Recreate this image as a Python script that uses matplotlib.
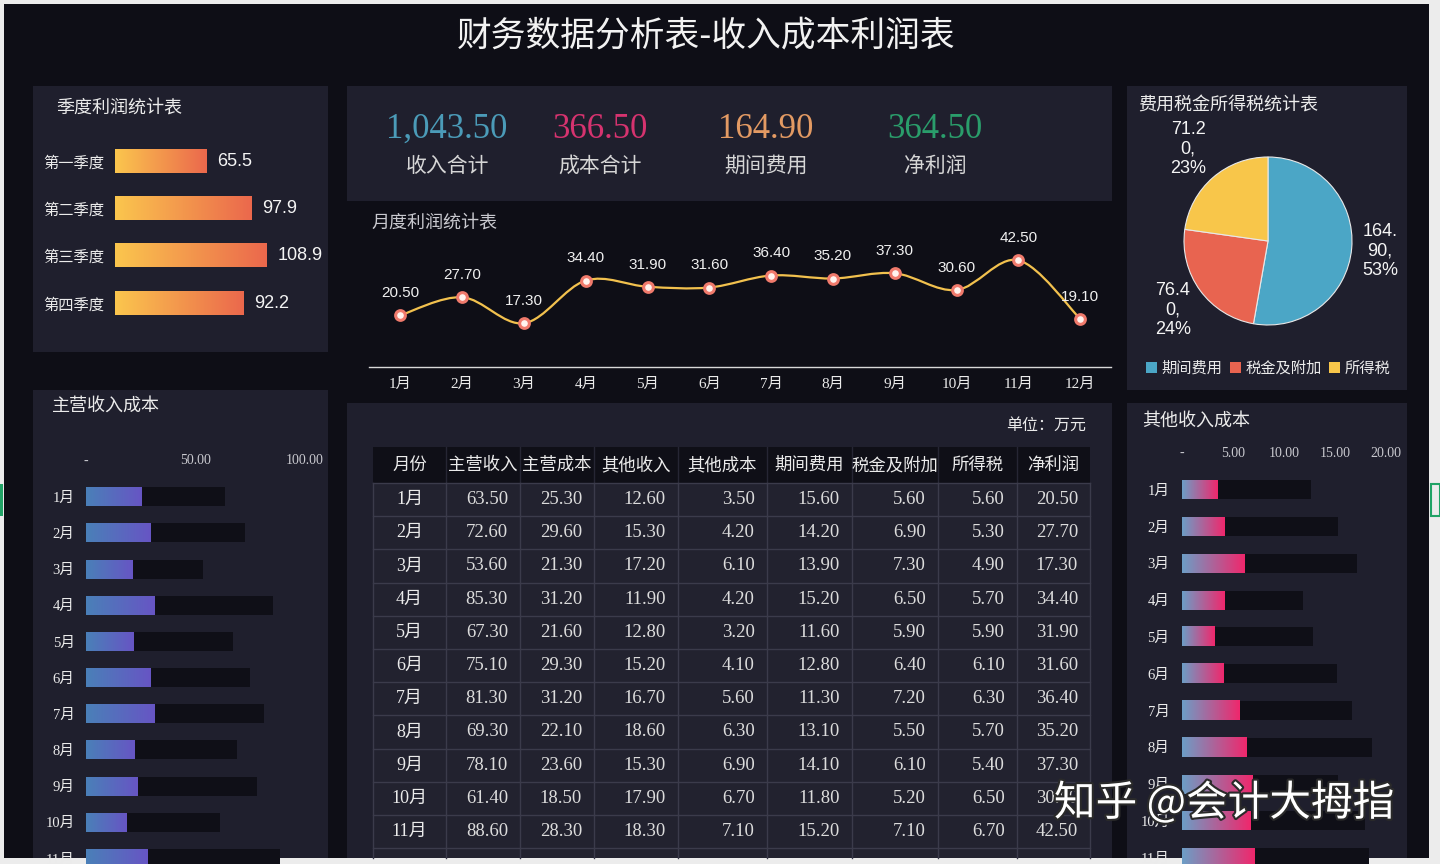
import numpy as np
import matplotlib
matplotlib.use('Agg')
import matplotlib.pyplot as plt
from matplotlib.patches import Rectangle, PathPatch
from matplotlib.path import Path
import matplotlib.patheffects as pe
from matplotlib.colors import LinearSegmentedColormap

# ---------------- data ----------------
title = '财务数据分析表-收入成本利润表'
quarters = ['第一季度', '第二季度', '第三季度', '第四季度']
quarter_profit = [65.5, 97.9, 108.9, 92.2]

kpi_values = [1043.50, 366.50, 164.90, 364.50]
kpi_labels = ['收入合计', '成本合计', '期间费用', '净利润']

months12 = ['1月', '2月', '3月', '4月', '5月', '6月', '7月', '8月', '9月', '10月', '11月', '12月']
net_profit_monthly = [20.5, 27.7, 17.3, 34.4, 31.9, 31.6, 36.4, 35.2, 37.3, 30.6, 42.5, 19.1]

table_months = ['1月', '2月', '3月', '4月', '5月', '6月', '7月', '8月', '9月', '10月', '11月']
main_rev = [63.5, 72.6, 53.6, 85.3, 67.3, 75.1, 81.3, 69.3, 78.1, 61.4, 88.6]
main_cost = [25.3, 29.6, 21.3, 31.2, 21.6, 29.3, 31.2, 22.1, 23.6, 18.5, 28.3]
other_rev = [12.6, 15.3, 17.2, 11.9, 12.8, 15.2, 16.7, 18.6, 15.3, 17.9, 18.3]
other_cost = [3.5, 4.2, 6.1, 4.2, 3.2, 4.1, 5.6, 6.3, 6.9, 6.7, 7.1]
period_exp = [15.6, 14.2, 13.9, 15.2, 11.6, 12.8, 11.3, 13.1, 14.1, 11.8, 15.2]
tax_surcharge = [5.6, 6.9, 7.3, 6.5, 5.9, 6.4, 7.2, 5.5, 6.1, 5.2, 7.1]
income_tax = [5.6, 5.3, 4.9, 5.7, 5.9, 6.1, 6.3, 5.7, 5.4, 6.5, 6.7]
net_profit = [20.5, 27.7, 17.3, 34.4, 31.9, 31.6, 36.4, 35.2, 37.3, 30.6, 42.5]

table_headers = ['月份', '主营收入', '主营成本', '其他收入', '其他成本', '期间费用', '税金及附加', '所得税', '净利润']

pie_labels = ['期间费用', '税金及附加', '所得税']
pie_values = [164.9, 76.4, 71.2]

main_ticks = [0, 50, 100]
main_tick_labels = ['-', '50.00', '100.00']
other_ticks = [0, 5, 10, 15, 20]
other_tick_labels = ['-', '5.00', '10.00', '15.00', '20.00']

# ---------------- style ----------------
W, H = 1440, 864
CJK = ['Noto Sans CJK SC', 'DejaVu Sans']
SERIF = ['Liberation Serif', 'Noto Sans CJK SC']
SANS = ['Liberation Sans', 'Noto Sans CJK SC']
OUTER = '#0e0e16'
PANEL = '#1f1f2d'
TXT = '#ebebeb'
GREY = '#c9c9cf'

plt.rcParams['font.family'] = CJK

fig = plt.figure(figsize=(W / 100, H / 100), dpi=100, facecolor='#ececec')
bg = fig.add_axes([0, 0, 1, 1])
bg.set_xlim(0, W)
bg.set_ylim(H, 0)
bg.axis('off')


def px_axes(x0, y0, x1, y1):
    a = fig.add_axes([x0 / W, 1 - y1 / H, (x1 - x0) / W, (y1 - y0) / H])
    a.patch.set_alpha(0)
    for s in a.spines.values():
        s.set_visible(False)
    return a


def rect(x0, y0, x1, y1, color, **kw):
    bg.add_patch(Rectangle((x0, y0), x1 - x0, y1 - y0, facecolor=color, edgecolor='none', **kw))


# screen frame / background
rect(4, 4, 1429, 858, OUTER)
bg.add_patch(Rectangle((1431, 484), 9, 32, facecolor='none', edgecolor='#21a366', lw=1.5))
bg.add_patch(Rectangle((0, 484), 3, 32, facecolor='#21a366', edgecolor='none'))

# panels
rect(33, 86, 328, 352, PANEL)
rect(347, 86, 1112, 201, PANEL)
rect(1127, 86, 1407, 390, PANEL)
rect(33, 390, 328, 858, PANEL)
rect(347, 403, 1112, 858, PANEL)
rect(1127, 403, 1407, 858, PANEL)

# title and panel titles
bg.text(706, 36, title, ha='center', va='center', fontsize=25, color='#f2f2f2')
bg.text(56, 108, '季度利润统计表', ha='left', va='center', fontsize=13, color=TXT)
bg.text(371, 223, '月度利润统计表', ha='left', va='center', fontsize=13, color=GREY)
bg.text(1138, 106, '费用税金所得税统计表', ha='left', va='center', fontsize=13, color=TXT)
bg.text(52, 406, '主营收入成本', ha='left', va='center', fontsize=13, color=TXT)
bg.text(1142, 421, '其他收入成本', ha='left', va='center', fontsize=13, color=TXT)
bg.text(1086, 425, '单位：万元', ha='right', va='center', fontsize=11.5, color=TXT)

# ---------------- KPI ----------------
kpi_colors = ['#4b9bb8', '#d6336f', '#e39a63', '#2a9d6b']
kpi_x = [447, 600, 766, 935]
for v, lab, c, x in zip(kpi_values, kpi_labels, kpi_colors, kpi_x):
    bg.text(x, 129, f'{v:,.2f}', ha='center', va='center', fontsize=25, color=c, family=SERIF)
    bg.text(x, 166, lab, ha='center', va='center', fontsize=15, color='#d6d6d6')

# ---------------- quarterly bars ----------------
grad = np.linspace(0, 1, 256).reshape(1, -1)
cmap_q = LinearSegmentedColormap.from_list('q', ['#fbc64e', '#eb684c'])
axq = px_axes(115, 137.4, 328, 326.7)
for i, v in enumerate(quarter_profit):
    axq.imshow(grad, extent=[0, v, i + 0.245, i - 0.245], cmap=cmap_q, aspect='auto', interpolation='bicubic')
    axq.annotate(f'{v:.1f}', (v, i), xytext=(8, 0), textcoords='offset points',
                 ha='left', va='center', fontsize=13, color='#f5f5f5', family=SANS)
axq.set_xlim(0, (328 - 115) / 1.39)
axq.set_ylim(3.5, -0.5)
axq.set_xticks([])
axq.set_yticks(range(len(quarters)), quarters, fontsize=11, color=TXT)
axq.tick_params(axis='y', length=0, pad=8)

# ---------------- monthly profit line ----------------
axl = px_axes(369.5, 240, 1111, 366.5)
xs = np.arange(1, len(net_profit_monthly) + 1, dtype=float)
ys = np.array(net_profit_monthly, dtype=float)
verts = [(xs[0], ys[0])]
codes = [Path.MOVETO]
n = len(xs)
P = np.column_stack([xs, ys])
for i in range(n - 1):
    p0 = P[i - 1] if i > 0 else P[i]
    p1 = P[i]
    p2 = P[i + 1]
    p3 = P[i + 2] if i + 2 < n else P[i + 1]
    c1 = p1 + (p2 - p0) / 6.0
    c2 = p2 - (p3 - p1) / 6.0
    verts += [tuple(c1), tuple(c2), tuple(p2)]
    codes += [Path.CURVE4] * 3
axl.add_patch(PathPatch(Path(verts, codes), facecolor='none', edgecolor='#f2c14e', lw=1.6))
axl.plot(xs, ys, 'o', ms=7, mfc='#fff3ee', mec='#f07a6c', mew=2.2, zorder=3)
for x, y in zip(xs, ys):
    axl.annotate(f'{y:.2f}', (x, y), xytext=(0, 16), textcoords='offset points',
                 ha='center', va='center', fontsize=11, color='#f0f0f0', family=SANS)
axl.set_xlim(0.5, 12.5)
axl.set_ylim(0, (366.5 - 240) / 2.5)
axl.spines['bottom'].set_visible(True)
axl.spines['bottom'].set_color('#d8d8d8')
axl.spines['bottom'].set_linewidth(1)
axl.set_yticks([])
axl.set_xticks(xs, months12, fontsize=11, color=TXT, family=SERIF)
axl.tick_params(axis='x', length=0, pad=8)

# ---------------- pie ----------------
pie_colors = ['#4ba6c6', '#e86450', '#f8c64a']
axp = px_axes(1268 - 84, 241 - 84, 1268 + 84, 241 + 84)
wedges, _ = axp.pie(pie_values, startangle=90, counterclock=False, colors=pie_colors,
                    radius=1, wedgeprops=dict(edgecolor='#e8e8e8', linewidth=0.8))
axp.set_xlim(-1, 1)
axp.set_ylim(-1, 1)
total = sum(pie_values)
dists = [1.34, 1.40, 1.45]
ang = 90.0
for v, d in zip(pie_values, dists):
    span = v / total * 360
    mid = np.deg2rad(ang - span / 2)
    ang -= span
    s = f'{v:.2f}'
    lab = f'{s[:4]}\n{s[4:]},\n{v / total * 100:.0f}%'
    axp.text(d * np.cos(mid), d * np.sin(mid), lab, ha='center', va='center', fontsize=13,
             color='#f5f5f5', family=SANS, linespacing=1.2, clip_on=False)
leg = axp.legend(wedges, pie_labels, ncol=3, loc='center', bbox_to_anchor=(1268, 368),
                 bbox_transform=bg.transData, frameon=False, fontsize=11, labelcolor=TXT,
                 handlelength=0.7, handleheight=0.7, handletextpad=0.3, columnspacing=0.5)
for h in leg.legend_handles:
    h.set_edgecolor('none')

# ---------------- main revenue / cost bars ----------------
cmap_m = LinearSegmentedColormap.from_list('m', ['#4a80b8', '#6755c4'])
row_m = 36.18
axm = px_axes(85.7, 496.7 - row_m / 2, 328, 496.7 - row_m / 2 + row_m * 12)
bh = 19 / row_m
axm.barh(range(len(main_rev)), main_rev, height=bh, color='#0f0f17')
for i, v in enumerate(main_cost):
    axm.imshow(grad, extent=[0, v, i + bh / 2, i - bh / 2], cmap=cmap_m, aspect='auto',
               interpolation='bicubic', zorder=3)
axm.set_xlim(0, (328 - 85.7) / 2.19)
axm.set_ylim(11.5, -0.5)
axm.xaxis.tick_top()
axm.set_xticks(main_ticks, main_tick_labels, fontsize=10, color=GREY, family=SERIF)
axm.set_yticks(range(len(table_months)), table_months, fontsize=10.5, color=TXT, family=SERIF)
axm.tick_params(axis='x', length=0, pad=8)
axm.tick_params(axis='y', length=0, pad=8)

# ---------------- other revenue / cost bars ----------------
cmap_o = LinearSegmentedColormap.from_list('o', ['#6c9ec6', '#f0276c'])
row_o = 36.8
axo = px_axes(1182, 489.7 - row_o / 2, 1407, 489.7 - row_o / 2 + row_o * 12)
bho = 19 / row_o
axo.barh(range(len(other_rev)), other_rev, height=bho, color='#0f0f17')
for i, v in enumerate(other_cost):
    axo.imshow(grad, extent=[0, v, i + bho / 2, i - bho / 2], cmap=cmap_o, aspect='auto',
               interpolation='bicubic', zorder=3)
axo.set_xlim(0, (1407 - 1182) / 10.2)
axo.set_ylim(11.5, -0.5)
axo.xaxis.tick_top()
axo.set_xticks(other_ticks, other_tick_labels, fontsize=10, color=GREY, family=SERIF)
axo.set_yticks(range(len(table_months)), table_months, fontsize=10.5, color=TXT, family=SERIF)
axo.tick_params(axis='x', length=0, pad=8)
axo.tick_params(axis='y', length=0, pad=9)

# ---------------- table ----------------
col_edges = [373, 446, 520, 594, 678, 767, 852, 938, 1017, 1090]
hdr_top, hdr_bot = 447, 483
row_h = 33.2
rect(col_edges[0], hdr_top, col_edges[-1], hdr_bot, '#0f0f17')
rect(col_edges[0], hdr_bot, col_edges[-1], 858, '#22222f')
for j, htxt in enumerate(table_headers):
    cx = (col_edges[j] + col_edges[j + 1]) / 2
    bg.text(cx, (hdr_top + hdr_bot) / 2, htxt, ha='center', va='center', fontsize=12.5, color=TXT,
            clip_on=True)
for x in col_edges[1:-1]:
    bg.plot([x, x], [hdr_top, hdr_bot], color='#262634', lw=1)
for x in col_edges:
    bg.plot([x, x], [hdr_bot, 858], color='#3b3b4b', lw=1)
for r in range(13):
    y = hdr_bot + r * row_h
    if y < 858:
        bg.plot([col_edges[0], col_edges[-1]], [y, y], color='#3b3b4b', lw=1)

cols = [main_rev, main_cost, other_rev, other_cost, period_exp, tax_surcharge, income_tax, net_profit]
for r, m in enumerate(table_months):
    cy = hdr_bot + (r + 0.5) * row_h
    bg.text((col_edges[0] + col_edges[1]) / 2, cy, m, ha='center', va='center',
            fontsize=13, color=TXT, family=SERIF)
    for j, col in enumerate(cols):
        bg.text(col_edges[j + 2] - 12, cy, f'{col[r]:.2f}', ha='right', va='center',
                fontsize=13.5, color='#dcdcdc', family=SERIF)

# ---------------- watermark ----------------
fig.text(1224 / W, 1 - 803 / H, '知乎 @会计大拇指', ha='center', va='center', fontsize=30,
         color='white', zorder=100,
         path_effects=[pe.withStroke(linewidth=3, foreground='#2a2a2a')])

fig.savefig('out.png', dpi=100, facecolor=fig.get_facecolor())
